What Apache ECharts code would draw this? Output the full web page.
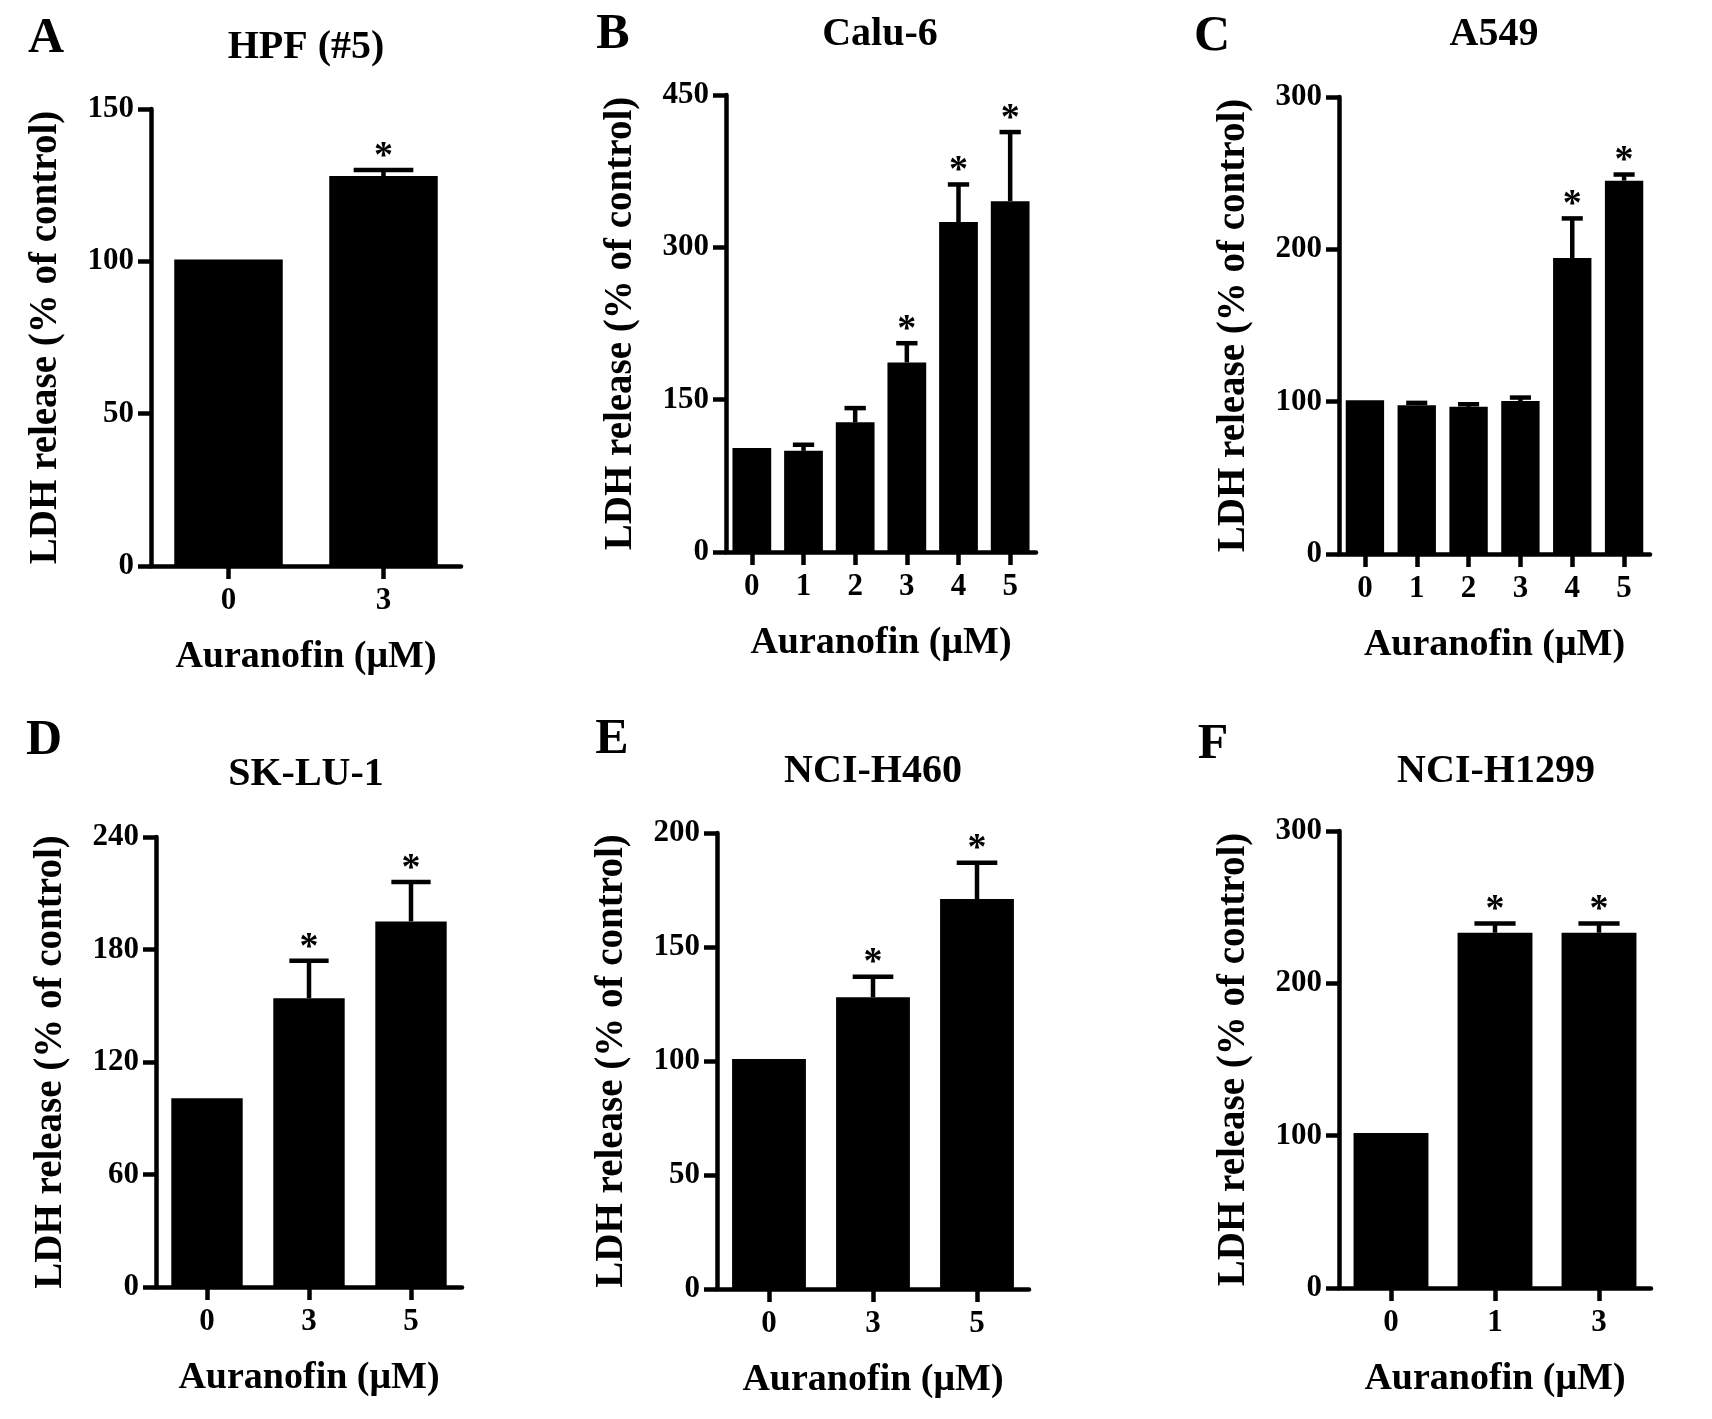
<!DOCTYPE html>
<html>
<head>
<meta charset="utf-8">
<script src="https://cdn.jsdelivr.net/npm/echarts@6/dist/echarts.min.js"></script>
<style>
html,body{margin:0;padding:0;background:#fff;}
#chart{width:1712px;height:1419px;}
</style>
</head>
<body>
<div id="chart"></div>
<script>
// ---- Data ----
const catsA = ['0', '3'];
const meansA = [100.6, 128];
const semA = [0, 2];
const sigA = [0, 1];
const ticksA = [0, 50, 100, 150];

const catsB = ['0', '1', '2', '3', '4', '5'];
const meansB = [102.5, 99.6, 127.7, 186.6, 324.9, 345.5];
const semB = [0, 6, 14, 19, 37, 68];
const sigB = [0, 0, 0, 1, 1, 1];
const ticksB = [0, 150, 300, 450];

const catsC = ['0', '1', '2', '3', '4', '5'];
const meansC = [101.0, 97.7, 96.6, 100.4, 194.3, 245.1];
const semC = [0, 1.5, 1.7, 2.3, 26, 4];
const sigC = [0, 0, 0, 0, 1, 1];
const ticksC = [0, 100, 200, 300];

const catsD = ['0', '3', '5'];
const meansD = [100.7, 154, 195];
const semD = [0, 20, 21];
const sigD = [0, 1, 1];
const ticksD = [0, 60, 120, 180, 240];

const catsE = ['0', '3', '5'];
const meansE = [100.9, 128, 171];
const semE = [0, 9, 16];
const sigE = [0, 1, 1];
const ticksE = [0, 50, 100, 150, 200];

const catsF = ['0', '1', '3'];
const meansF = [101.7, 233.2, 233.2];
const semF = [0, 6, 6];
const sigF = [0, 1, 1];
const ticksF = [0, 100, 200, 300];

const panelLetters = ['A', 'B', 'C', 'D', 'E', 'F'];
const panelTitles = ['HPF (#5)', 'Calu-6', 'A549', 'SK-LU-1', 'NCI-H460', 'NCI-H1299'];
const yAxisName = 'LDH release (% of control)';
const xAxisName = 'Auranofin (\u03bcM)';

// ---- Layout / style ----
const FONT = '"Liberation Serif", "Times New Roman", serif';
const LW = 4.5;
const layout = [
  {grid: {left: 151, top: 109, width: 310, height: 457}, barFrac: 0.70, letter: [46, 39], title: [306, 48]},
  {grid: {left: 726, top: 95, width: 310, height: 457}, barFrac: 0.75, letter: [613, 35], title: [880, 35]},
  {grid: {left: 1339, top: 97, width: 311, height: 457}, barFrac: 0.74, letter: [1212, 37], title: [1494, 35]},
  {grid: {left: 156, top: 837, width: 306, height: 450}, barFrac: 0.70, letter: [44, 741], title: [306, 775]},
  {grid: {left: 717, top: 833, width: 312, height: 456}, barFrac: 0.71, letter: [612, 740], title: [873, 772]},
  {grid: {left: 1339, top: 831, width: 312, height: 457}, barFrac: 0.72, letter: [1213, 745], title: [1496, 772]}
];

const panels = [
  {cats: catsA, means: meansA, sem: semA, sig: sigA, ticks: ticksA},
  {cats: catsB, means: meansB, sem: semB, sig: sigB, ticks: ticksB},
  {cats: catsC, means: meansC, sem: semC, sig: sigC, ticks: ticksC},
  {cats: catsD, means: meansD, sem: semD, sig: sigD, ticks: ticksD},
  {cats: catsE, means: meansE, sem: semE, sig: sigE, ticks: ticksE},
  {cats: catsF, means: meansF, sem: semF, sig: sigF, ticks: ticksF}
];

const grids = [], xAxes = [], yAxes = [], series = [], graphics = [];

panels.forEach((p, k) => {
  const L = layout[k];
  grids.push(Object.assign({containLabel: false}, L.grid));
  xAxes.push({
    type: 'category', gridIndex: k, data: p.cats,
    name: xAxisName, nameLocation: 'middle', nameGap: 72,
    nameTextStyle: {fontFamily: FONT, fontWeight: 'bold', fontSize: 38, color: '#000'},
    axisLine: {show: true, lineStyle: {color: '#000', width: LW}},
    axisTick: {show: true, alignWithLabel: true, length: 13, lineStyle: {color: '#000', width: LW}},
    axisLabel: {interval: 0, margin: 19, fontFamily: FONT, fontWeight: 'bold', fontSize: 31, color: '#000'},
    splitLine: {show: false}
  });
  const t = p.ticks;
  yAxes.push({
    type: 'value', gridIndex: k, min: t[0], max: t[t.length - 1], interval: t[1] - t[0],
    name: yAxisName, nameLocation: 'middle', nameGap: 86, nameRotate: 90,
    nameTextStyle: {fontFamily: FONT, fontWeight: 'bold', fontSize: 39, color: '#000'},
    axisLine: {show: true, lineStyle: {color: '#000', width: LW}},
    axisTick: {show: true, length: 13, lineStyle: {color: '#000', width: LW}},
    axisLabel: {margin: 17, fontFamily: FONT, fontWeight: 'bold', fontSize: 31, color: '#000'},
    splitLine: {show: false}
  });
  series.push({
    type: 'bar', xAxisIndex: k, yAxisIndex: k, data: p.means,
    barWidth: Math.round(L.barFrac * 100) + '%',
    itemStyle: {color: '#000'}, silent: true, animation: false
  });
  const errData = p.means.map((m, i) => [i, m, p.sem[i], p.sig[i]]);
  const frac = L.barFrac;
  series.push({
    type: 'custom', xAxisIndex: k, yAxisIndex: k, data: errData, z: 5, animation: false, silent: true,
    renderItem: function (params, api) {
      const i = api.value(0), m = api.value(1), e = api.value(2), s = api.value(3);
      const bw = api.size([1, 0])[0] * frac;
      const capW = bw * 0.55;
      const top = api.coord([i, m]);
      const cap = api.coord([i, m + e]);
      const children = [];
      if (e > 0) {
        children.push({type: 'line', shape: {x1: top[0], y1: top[1], x2: cap[0], y2: cap[1]}, style: {stroke: '#000', lineWidth: LW}});
        children.push({type: 'line', shape: {x1: cap[0] - capW / 2, y1: cap[1], x2: cap[0] + capW / 2, y2: cap[1]}, style: {stroke: '#000', lineWidth: LW}});
      }
      if (s) {
        children.push({type: 'text', x: cap[0], y: cap[1] + 6, style: {text: '*', font: 'bold 38px ' + FONT, fill: '#000', align: 'center', verticalAlign: 'bottom'}});
      }
      return {type: 'group', children: children};
    }
  });
  graphics.push({type: 'text', x: L.letter[0], y: L.letter[1], style: {text: panelLetters[k], font: 'bold 50px ' + FONT, fill: '#000', align: 'center', verticalAlign: 'middle'}});
  graphics.push({type: 'text', x: L.title[0], y: L.title[1], style: {text: panelTitles[k], font: 'bold 40px ' + FONT, fill: '#000', align: 'center', verticalAlign: 'middle'}});
});

const chart = echarts.init(document.getElementById('chart'), null, {renderer: 'canvas', width: 1712, height: 1419});
chart.setOption({
  backgroundColor: '#fff',
  animation: false,
  grid: grids,
  xAxis: xAxes,
  yAxis: yAxes,
  series: series,
  graphic: graphics
});
</script>
</body>
</html>
